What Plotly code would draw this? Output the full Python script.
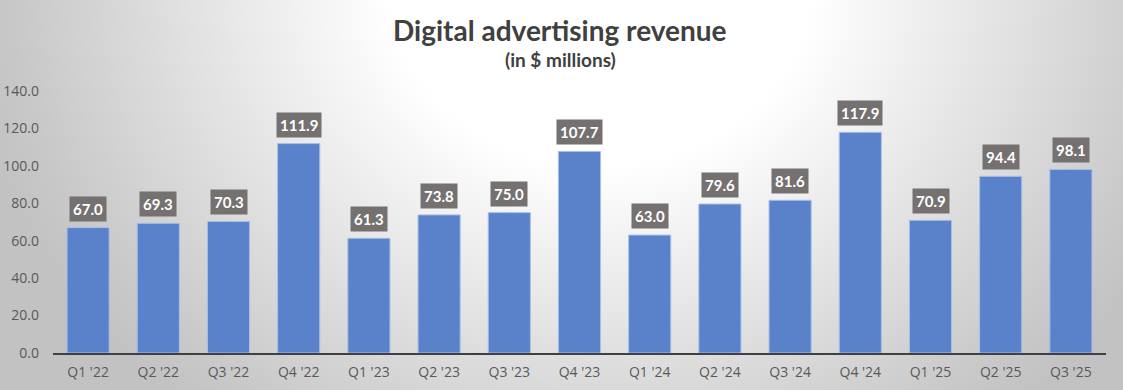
import base64
import plotly.graph_objects as go

quarters = ["Q1 '22", "Q2 '22", "Q3 '22", "Q4 '22", "Q1 '23", "Q2 '23", "Q3 '23", "Q4 '23",
            "Q1 '24", "Q2 '24", "Q3 '24", "Q4 '24", "Q1 '25", "Q2 '25", "Q3 '25"]
revenue = [67.0, 69.3, 70.3, 111.9, 61.3, 73.8, 75.0, 107.7,
           63.0, 79.6, 81.6, 117.9, 70.9, 94.4, 98.1]
y_ticks = [0, 20, 40, 60, 80, 100, 120, 140]

W, H = 1123, 390
L, R, T, B = 53, 17, 91, 37
pw, ph = W - L - R, H - T - B

svg = f'''<svg xmlns="http://www.w3.org/2000/svg" width="{W}" height="{H}">
<defs><radialGradient id="g" gradientUnits="userSpaceOnUse" cx="0" cy="0" r="1"
 gradientTransform="translate(600,-20) scale(640,560)">
<stop offset="0" stop-color="#ffffff"/><stop offset="0.33" stop-color="#ffffff"/>
<stop offset="0.92" stop-color="#c8c8c8"/><stop offset="1" stop-color="#c2c2c2"/></radialGradient></defs>
<rect width="{W}" height="{H}" fill="url(#g)"/></svg>'''
src = "data:image/svg+xml;base64," + base64.b64encode(svg.encode()).decode()

fig = go.Figure()
fig.add_trace(go.Bar(
    x=quarters, y=revenue,
    marker=dict(color="#5a82cb", line=dict(color="#a9bfe6", width=1)),
    hoverinfo="x+y",
))

for q, v in zip(quarters, revenue):
    fig.add_annotation(x=q, y=v, text=f"<b>{v:.1f}</b>", showarrow=False,
                       yanchor="bottom", yshift=6, bgcolor="#757171",
                       font=dict(family="Lato, sans-serif", size=15, color="white"),
                       borderpad=3)

fig.add_layout_image(dict(source=src, xref="paper", yref="paper",
                          x=-L / pw, y=1 + T / ph, sizex=W / pw, sizey=H / ph,
                          xanchor="left", yanchor="top", sizing="stretch", layer="below"))

fig.add_annotation(xref="paper", yref="paper", x=(560 - L) / pw, y=1 + (T - 30) / ph,
                   text="<b>Digital advertising revenue</b>", showarrow=False,
                   font=dict(family="Lato, sans-serif", size=28, color="#404040"),
                   xanchor="center", yanchor="middle")
fig.add_annotation(xref="paper", yref="paper", x=(560 - L) / pw, y=1 + (T - 60) / ph,
                   text="<b>(in $ millions)</b>", showarrow=False,
                   font=dict(family="Lato, sans-serif", size=19, color="#404040"),
                   xanchor="center", yanchor="middle")

fig.update_layout(
    width=W, height=H,
    margin=dict(l=L, r=R, t=T, b=B, autoexpand=False),
    paper_bgcolor="rgba(0,0,0,0)", plot_bgcolor="rgba(0,0,0,0)",
    bargap=0.4, showlegend=False,
    xaxis=dict(showline=True, linecolor="#404040", linewidth=2, ticks="",
               ticklabelstandoff=5, automargin=False,
               tickfont=dict(family="Open Sans, sans-serif", size=14, color="#595959"),
               showgrid=False),
    yaxis=dict(range=[0, 140], tickvals=y_ticks, tickformat=".1f", showgrid=False,
               zeroline=False, ticklabelstandoff=13, automargin=False,
               tickfont=dict(family="Open Sans, sans-serif", size=14, color="#595959")),
)

fig.write_html("out.html", config={"displayModeBar": False},
               post_script="document.body.style.margin='0';document.body.style.overflow='hidden';")
